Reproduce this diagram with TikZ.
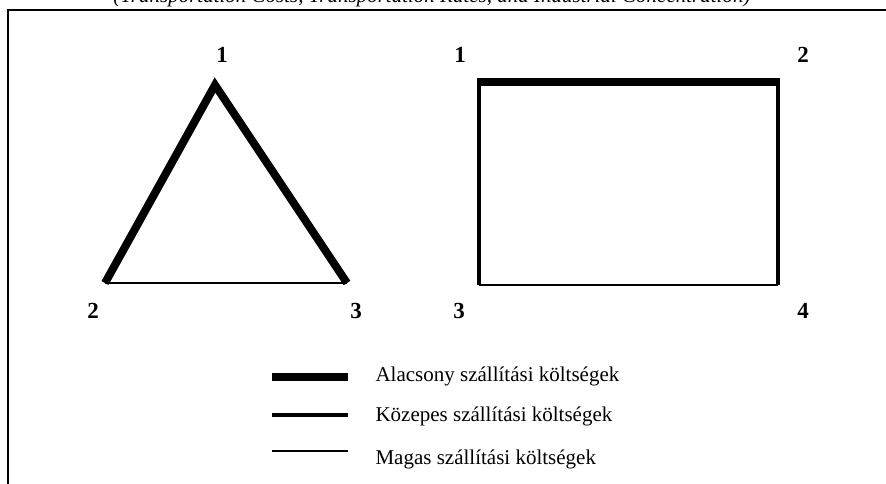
\documentclass[tikz,border=0pt]{standalone}
\usepackage{fontspec}
\setmainfont{Liberation Serif}
\usetikzlibrary{positioning,calc}

\begin{document}
\begin{tikzpicture}[x=1pt, y=-1pt,
    low/.style = {line width = 8pt},
    mid/.style = {line width = 3.8pt},
    high/.style = {line width = 1.3pt},
    num/.style = {font = \fontsize{23}{26}\selectfont\bfseries},
    legtext/.style = {anchor = west, font = \fontsize{21}{24}\selectfont}]
\useasboundingbox (0,0) rectangle (886,483);
\begin{scope}
\clip (0,0) rectangle (886,483);
% cut title and frame
\node[anchor = base, font = \fontsize{21}{24}\selectfont\itshape] (title) at (432,2)
  {(Transportation Costs, Transportation Rates, and Industrial Concentration)};
\draw[line width = 1.2pt] (8,490) -- (8,10) -- (890,10);
\end{scope}
% triangle
\coordinate (t1) at (215,85);
\coordinate (t2) at (105,283);
\coordinate (t3) at (347,283);
\draw[low, line join = miter] (t2) -- (t1) -- (t3);
\draw[high] (t2) -- (t3);
\node[num] (n1) at (222,55) {1};
\node[num] (n2) at (93,311) {2};
\node[num] (n3) at (356,311) {3};
% rectangle
\coordinate (r1) at (479,82);
\coordinate (r2) at (778,82);
\coordinate (r3) at (479,285);
\coordinate (r4) at (778,285);
\draw[mid] (r1) -- (r3);
\draw[mid] (r2) -- (r4);
\draw[high] (r3) -- (r4);
\draw[low] ($(r1)+(-2,0)$) -- ($(r2)+(2,0)$);
\node[num] (m1) at (460,55) {1};
\node[num] (m2) at (803,55) {2};
\node[num] (m3) at (459,311) {3};
\node[num] (m4) at (803,311) {4};
% legend
\coordinate (a1) at (272,377);
\coordinate (a2) at (348,377);
\coordinate (b1) at (272,415);
\coordinate (b2) at (348,415);
\coordinate (c1) at (272,451);
\coordinate (c2) at (348,451);
\draw[low] (a1) -- (a2);
\draw[mid] (b1) -- (b2);
\draw[high] (c1) -- (c2);
\begin{scope}
\clip (0,0) rectangle (886,483);
\node[legtext] (la) at (372,376) {Alacsony szállítási költségek};
\node[legtext] (lb) at (372,416) {Közepes szállítási költségek};
\node[legtext] (lc) at (372,459) {Magas szállítási költségek};
\end{scope}
\end{tikzpicture}
\end{document}
